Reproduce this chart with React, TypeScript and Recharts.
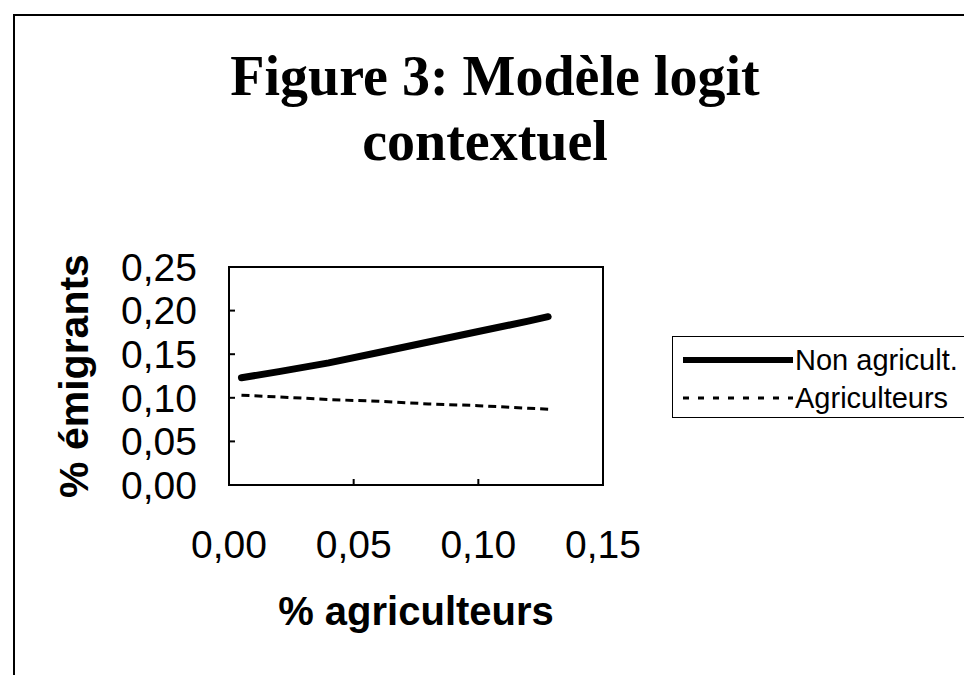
import * as React from "react";
import { Legend, Line, LineChart, ReferenceArea, XAxis, YAxis } from "recharts";

const shareFarmers = [0.005, 0.02, 0.04, 0.06, 0.08, 0.1, 0.12, 0.128];
const nonAgricult = [0.123, 0.13, 0.14, 0.152, 0.164, 0.176, 0.188, 0.193];
const agriculteurs = [0.103, 0.101, 0.098, 0.096, 0.093, 0.091, 0.088, 0.087];

const xTicks = [0, 0.05, 0.1, 0.15];
const yTicks = [0, 0.05, 0.1, 0.15, 0.2, 0.25];

const seriesNames = ["Non agricult.", "Agriculteurs"];

const data = shareFarmers.map((x, i) => ({
  x,
  nonAgri: nonAgricult[i],
  agri: agriculteurs[i],
}));

const fmt = (v: number) => v.toFixed(2).replace(".", ",");
const sans = "'Liberation Sans', Arial, sans-serif";

function LegendBox() {
  return (
    <div
      style={{
        border: "1.5px solid #000",
        borderRight: "none",
        background: "#fff",
        width: 300,
        height: 82,
        fontFamily: sans,
        fontSize: 29,
        color: "#000",
        boxSizing: "border-box",
        paddingTop: 4,
      }}
    >
      {seriesNames.map((name, i) => (
        <div key={name} style={{ display: "flex", alignItems: "center", height: 38 }}>
          <svg width={120} height={20} style={{ marginLeft: 10 }}>
            <line
              x1={0}
              y1={10}
              x2={110}
              y2={10}
              stroke="#000"
              strokeWidth={i === 0 ? 6 : 3}
              strokeDasharray={i === 0 ? undefined : "6 9"}
            />
          </svg>
          <span style={{ marginLeft: -8 }}>{name}</span>
        </div>
      ))}
    </div>
  );
}

export default function App() {
  return (
    <div style={{ position: "absolute", left: 0, top: 0, width: 964, height: 675, background: "#fff", overflow: "hidden" }}>
      <div
        style={{
          position: "absolute",
          left: 13,
          top: 14,
          width: 1000,
          height: 700,
          borderLeft: "2px solid #000",
          borderTop: "2px solid #000",
        }}
      />
      <div
        style={{
          position: "absolute",
          left: 0,
          width: 990,
          textAlign: "center",
          fontFamily: "'Liberation Serif', 'Times New Roman', serif",
          fontWeight: 700,
          fontSize: 56,
          lineHeight: "65px",
          top: 44,
          color: "#000",
        }}
      >
        <div>Figure 3: Modèle logit</div>
        <div style={{ marginLeft: -20 }}>contextuel</div>
      </div>
      <div style={{ position: "absolute", left: 0, top: 0 }}>
        <LineChart width={964} height={675} data={data} margin={{ top: 267, right: 361, bottom: 0, left: 0 }}>
          <XAxis
            type="number"
            dataKey="x"
            domain={[0, 0.15]}
            ticks={xTicks}
            interval={0}
            tickFormatter={fmt}
            height={190}
            stroke="#000"
            strokeWidth={2}
            tickSize={-6}
            tickMargin={51}
            tick={{ fill: "#000", fontFamily: sans, fontSize: 39 }}
            label={{
              value: "% agriculteurs",
              position: "insideTop",
              offset: 112,
              fill: "#000",
              fontFamily: sans,
              fontSize: 40,
              fontWeight: 700,
            }}
          />
          <YAxis
            type="number"
            domain={[0, 0.25]}
            ticks={yTicks}
            interval={0}
            tickFormatter={fmt}
            width={229}
            stroke="#000"
            strokeWidth={2}
            tickSize={-6}
            tickMargin={38}
            tick={{ fill: "#000", fontFamily: sans, fontSize: 39 }}
            label={{
              value: "% émigrants",
              angle: -90,
              position: "insideLeft",
              offset: 73,
              fill: "#000",
              fontFamily: sans,
              fontSize: 41,
              fontWeight: 700,
              style: { textAnchor: "middle" },
            }}
          />
          <ReferenceArea x1={0} x2={0.15} y1={0} y2={0.25} fill="none" stroke="#000" strokeWidth={2} />
          <Line
            dataKey="nonAgri"
            name={seriesNames[0]}
            stroke="#000"
            strokeWidth={7}
            strokeLinecap="round"
            dot={false}
            isAnimationActive={false}
          />
          <Line
            dataKey="agri"
            name={seriesNames[1]}
            stroke="#000"
            strokeWidth={3}
            strokeDasharray="8 5"
            dot={false}
            isAnimationActive={false}
          />
          <Legend
            layout="horizontal"
            verticalAlign="middle"
            content={() => <LegendBox />}
            wrapperStyle={{ left: 672, top: 336, width: 300 }}
          />
        </LineChart>
      </div>
    </div>
  );
}
